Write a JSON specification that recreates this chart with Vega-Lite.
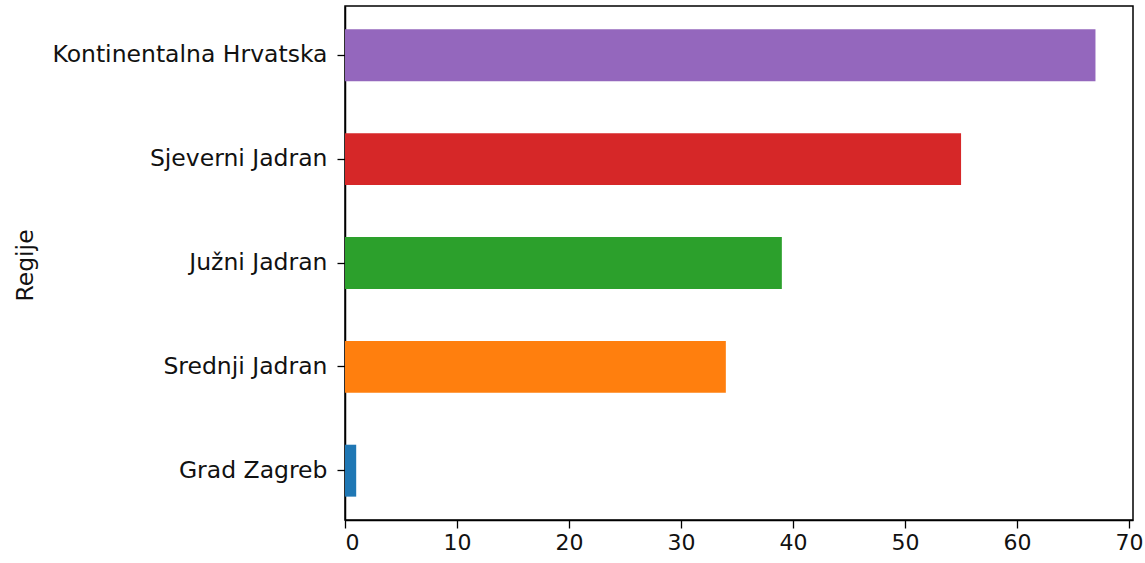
{
  "$schema": "https://vega.github.io/schema/vega-lite/v6.json",
  "autosize": "none",
  "width": 788,
  "height": 514,
  "padding": {"left": 345, "top": 6, "right": 12, "bottom": 43},
  "background": "white",
  "data": {"values": [
    {"regija": "Grad Zagreb", "vrijednost": 1, "boja": "#1f77b4"},
    {"regija": "Srednji Jadran", "vrijednost": 34, "boja": "#ff7f0e"},
    {"regija": "Južni Jadran", "vrijednost": 39, "boja": "#2ca02c"},
    {"regija": "Sjeverni Jadran", "vrijednost": 55, "boja": "#d62728"},
    {"regija": "Kontinentalna Hrvatska", "vrijednost": 67, "boja": "#9467bd"}
  ]},
  "mark": {"type": "bar"},
  "encoding": {
    "y": {
      "field": "regija", "type": "nominal",
      "sort": ["Kontinentalna Hrvatska", "Sjeverni Jadran", "Južni Jadran", "Srednji Jadran", "Grad Zagreb"],
      "scale": {"paddingInner": 0.5, "paddingOuter": 0.225},
      "axis": {"title": "Regije", "titleX": -320, "titleY": 259, "titleAngle": -90, "titleBaseline": "middle", "titleAlign": "center", "labelPadding": 10, "labelLimit": 500, "labelFontSize": 23.5, "titleFontSize": 23.5}
    },
    "x": {
      "field": "vrijednost", "type": "quantitative",
      "scale": {"domain": [0, 70.35], "nice": false, "zero": true},
      "axis": {"title": null, "values": [0, 10, 20, 30, 40, 50, 60, 70], "grid": false, "labelPadding": 4, "labelFontSize": 22}
    },
    "color": {"field": "boja", "type": "nominal", "scale": null, "legend": null}
  },
  "config": {
    "view": {"stroke": "#000", "strokeWidth": 1.5},
    "axis": {
      "domainColor": "#000", "domainWidth": 1.5,
      "tickColor": "#000", "tickSize": 8, "tickWidth": 1.3,
      "labelFont": "DejaVu Sans", "labelColor": "#111",
      "titleFont": "DejaVu Sans", "titleFontWeight": "normal", "titleColor": "#111",
      "grid": false
    }
  }
}
